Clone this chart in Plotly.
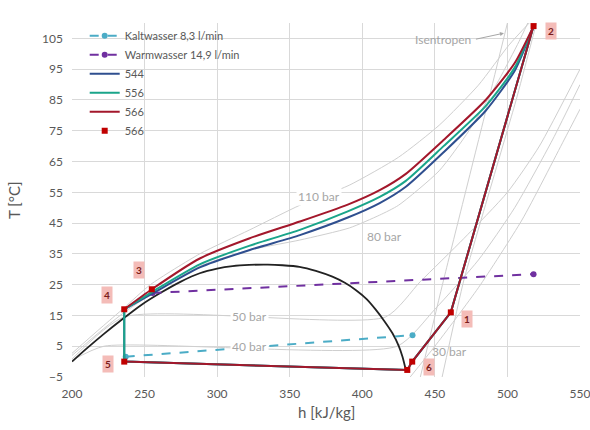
import plotly.graph_objects as go

# ---- data (h in kJ/kg, T in °C) ----
gc_h = [518, 505, 485, 456, 430, 412, 390, 357, 322, 288, 255, 236]
gc566_T = [109, 97, 85, 72, 61, 55.7, 51, 45.5, 40, 33.5, 23.5, 17]
gc556_T = [109, 95.5, 83, 70, 58.7, 53.5, 48.8, 42.8, 37.6, 31.6, 22.6, 17]
gc544_T = [109, 94.5, 81.5, 68, 56.8, 51.5, 46.8, 41.1, 36.2, 30.6, 22.0, 17]

low_h = [236, 236, 431, 434.4, 461, 518]
low_T = [17, 0, -2.7, 0, 16, 109]

pts566_h = [518, 255, 236, 236, 431, 434.4, 461]
pts566_T = [109, 23.5, 17, 0, -2.7, 0, 16]
pts566_lbl = ["2", "3", "4", "5", "6", "", "1"]

dome_h = [200, 210, 222, 235.3, 248, 260.5, 275, 288, 300, 310.6, 322, 335, 345, 356.7,
          368, 379.4, 388, 395.7, 403, 409.4, 415, 420.8, 425, 427.7, 430]
dome_T = [0, 4.2, 9, 14, 18.5, 22.2, 26, 28.7, 30.2, 31, 31.4, 31.5, 31.3, 30.8,
          29.5, 27.6, 25.6, 23.2, 20.3, 16.8, 13.3, 9.2, 5.2, 1.6, -2.7]

kalt_h = [237, 434.6]
kalt_T = [1.6, 8.6]
warm_h = [255.5, 518]
warm_T = [22.3, 28.4]

p110_h = [200, 220, 236, 254, 288, 322, 357, 391, 425, 453, 480, 501, 515]
p110_T = [2.7, 11, 17.5, 25, 35, 42.7, 50.8, 57.3, 66.4, 76.8, 89.8, 102.8, 110]
p80_h = [200, 220, 236, 255, 288, 322, 357, 391, 412, 425, 453, 473.5, 494, 508, 514]
p80_T = [2, 10, 16, 22, 31, 36.2, 39.5, 43.4, 47.6, 50.8, 62, 75, 91.4, 104, 110]
p50_h = [200, 236, 416, 440, 470, 500, 522, 550]
p50_T = [0.8, 14.5, 14.5, 26, 40, 55, 70, 95]
p40_h = [200, 222, 424, 450, 480, 505, 531, 550]
p40_T = [0.4, 5, 5, 17, 33, 50, 72, 90]
p30_h = [433, 450, 480, 510, 539, 550]
p30_T = [-5, 5, 24, 46, 72, 82]

isen_lines = [
    ([440, 456, 487, 500], [-5, 26.5, 85, 110]),
    ([455, 470, 506, 520], [-5, 26.5, 85, 110]),
]

fig = go.Figure()
grey = "#cfcfcf"
for hh, tt in [(p110_h, p110_T), (p80_h, p80_T), (p50_h, p50_T), (p40_h, p40_T), (p30_h, p30_T)]:
    fig.add_trace(go.Scatter(x=hh, y=tt, mode="lines", line=dict(color=grey, width=1, shape="spline", smoothing=0.6),
                             showlegend=False, hoverinfo="skip"))
for hh, tt in isen_lines:
    fig.add_trace(go.Scatter(x=hh, y=tt, mode="lines", line=dict(color=grey, width=1, shape="spline", smoothing=0.4),
                             showlegend=False, hoverinfo="skip"))

fig.add_trace(go.Scatter(x=dome_h, y=dome_T, mode="lines",
                         line=dict(color="#222222", width=1.8, shape="spline", smoothing=0.6),
                         showlegend=False))

fig.add_trace(go.Scatter(x=kalt_h, y=kalt_T, mode="lines+markers", name="Kaltwasser 8,3 l/min",
                         line=dict(color="#4bacc6", width=2, dash="dash"),
                         marker=dict(size=6, color="#4bacc6")))
fig.add_trace(go.Scatter(x=warm_h, y=warm_T, mode="lines+markers", name="Warmwasser 14,9 l/min",
                         line=dict(color="#7030a0", width=2, dash="dash"),
                         marker=dict(size=6, color="#7030a0")))

cycles = [("544", gc544_T, "#2f4f8f", False), ("556", gc556_T, "#1aa58a", False), ("566", gc566_T, "#a3172b", True)]
for name, gT, col, skipv in cycles:
    fig.add_trace(go.Scatter(x=gc_h, y=gT, mode="lines", name=name, legendgroup=name,
                             line=dict(color=col, width=2, shape="spline", smoothing=0.6)))
    lh = low_h[1:] if skipv else low_h
    lt = low_T[1:] if skipv else low_T
    fig.add_trace(go.Scatter(x=lh, y=lt, mode="lines", name=name, legendgroup=name, showlegend=False,
                             line=dict(color=col, width=2)))

fig.add_trace(go.Scatter(x=pts566_h, y=pts566_T, mode="markers", name="566",
                         marker=dict(symbol="square", size=6, color="#c00000")))

# point labels
lbl_off = {"1": (16, 7), "2": (17, 5), "3": (-13, -19), "4": (-17, -14), "5": (-16, 2), "6": (22, -3)}
for hx, ty, lb in zip(pts566_h, pts566_T, pts566_lbl):
    if not lb:
        continue
    ax, ay = lbl_off[lb]
    fig.add_annotation(x=hx, y=ty, text="<b>" + lb + "</b>", showarrow=True, arrowcolor="rgba(0,0,0,0)",
                       ax=ax, ay=ay, bgcolor="#f4bcb8", font=dict(size=10, color="#7b1c1c"), borderpad=2)

gfont = dict(size=12, color="#a6a6a6")
fig.add_annotation(x=370, y=53.5, text="110 bar", showarrow=False, font=gfont, bgcolor="white")
fig.add_annotation(x=415, y=40.8, text="80 bar", showarrow=False, font=gfont, bgcolor="white")
fig.add_annotation(x=322, y=14.5, text="50 bar", showarrow=False, font=gfont, bgcolor="white")
fig.add_annotation(x=322, y=5, text="40 bar", showarrow=False, font=gfont, bgcolor="white")
fig.add_annotation(x=460, y=3.4, text="30 bar", showarrow=False, font=gfont)
fig.add_annotation(x=497.6, y=106.7, ax=-28, ay=6, text="Isentropen ", showarrow=True, arrowcolor="#a6a6a6",
                   arrowhead=2, arrowsize=0.8, arrowwidth=1, font=gfont, xanchor="right")

# axis titles
fig.add_annotation(xref="paper", yref="paper", x=0.5, y=0, yshift=-35, yanchor="middle", xanchor="center",
                   text="h [kJ/kg]", showarrow=False, font=dict(size=15, color="#595959"))
fig.add_annotation(xref="paper", yref="paper", x=0, xshift=-58, y=0.5, xanchor="center", yanchor="middle",
                   textangle=-90, text="T [°C]", showarrow=False, font=dict(size=15, color="#595959"))

fig.update_layout(
    width=590, height=430, margin=dict(l=72, r=10, t=23, b=53, autoexpand=False),
    paper_bgcolor="white", plot_bgcolor="white",
    font=dict(family="Lato, Open Sans, sans-serif", color="#595959"),
    legend=dict(x=0.025, y=1.005, xanchor="left", yanchor="top", bgcolor="rgba(0,0,0,0)",
                font=dict(size=11, color="#595959"), tracegroupgap=0),
    xaxis=dict(range=[200, 550], dtick=50, tick0=200, showgrid=True, gridcolor="#d9d9d9",
               zeroline=False, showline=False, ticks="", tickfont=dict(size=12), automargin=False,
               ticklabelstandoff=8, ticklabeloverflow="allow"),
    yaxis=dict(range=[-5, 110], tickvals=list(range(-5, 106, 10)), showgrid=True, gridcolor="#d9d9d9",
               zeroline=False, showline=False, ticks="", tickfont=dict(size=12), automargin=False,
               ticklabelstandoff=8, ticklabeloverflow="allow"),
)
fig.write_html("out.html", config={"displayModeBar": False},
               post_script="document.body.style.margin='0';")
